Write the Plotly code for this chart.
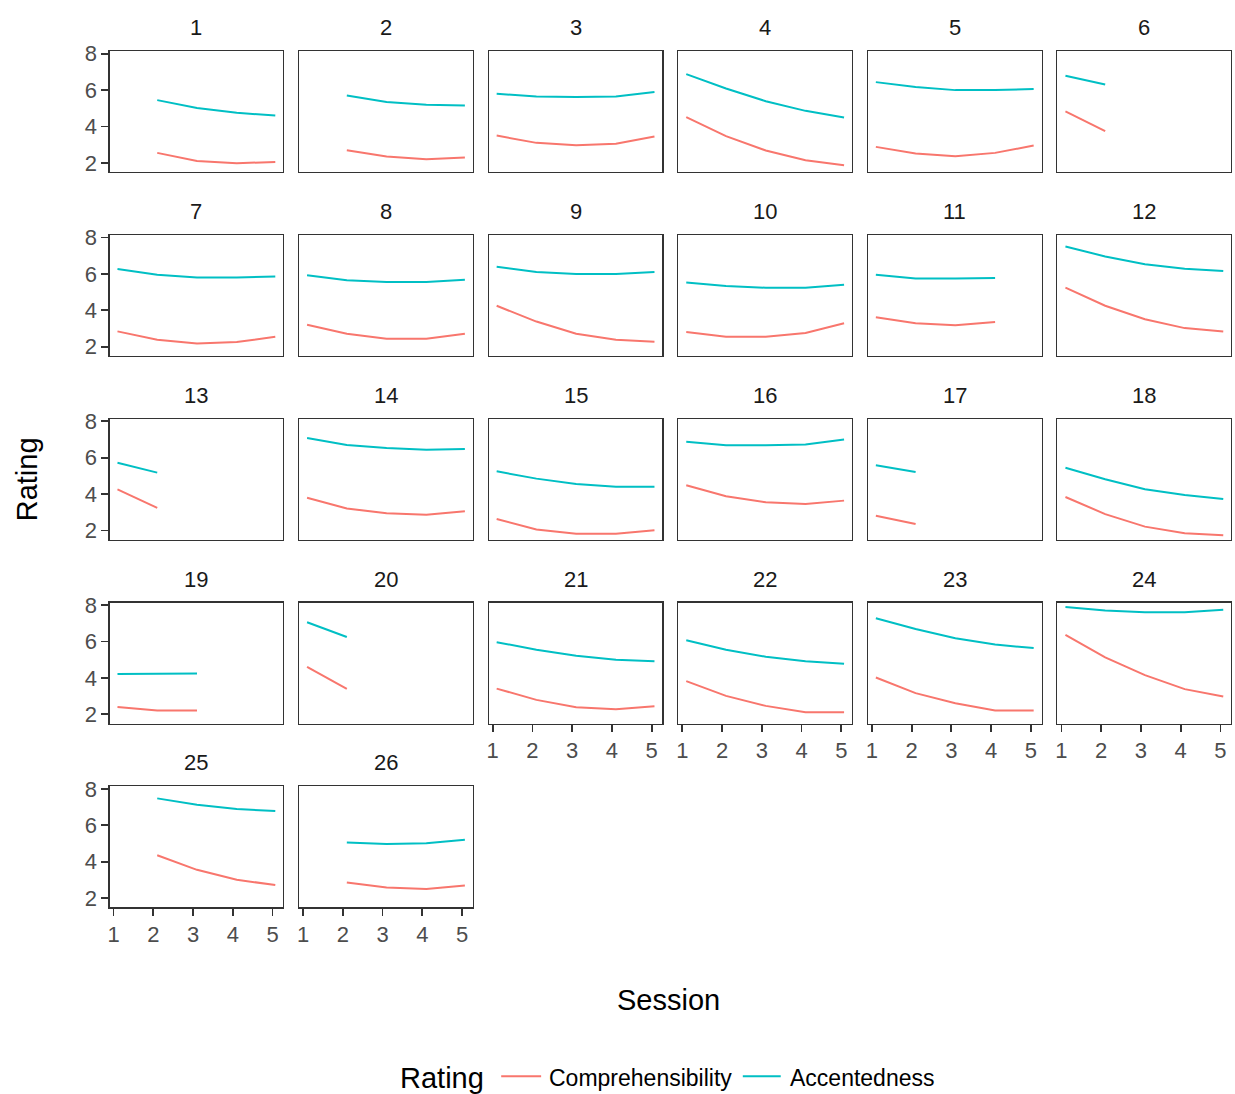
import plotly.graph_objects as go

# ---------------- data ----------------
sessions = [1.1, 2.1, 3.1, 4.1, 5.07]
tick_vals = [1, 2, 3, 4, 5]
tick_text = ["1", "2", "3", "4", "5"]
y_ticks = [2, 4, 6, 8]
panel_ids = [str(i) for i in range(1, 27)]
N = None

comprehensibility = [
    [N, 2.55, 2.10, 1.98, 2.05],      # 1
    [N, 2.70, 2.35, 2.20, 2.30],      # 2
    [3.50, 3.10, 2.97, 3.05, 3.45],   # 3
    [4.52, 3.47, 2.68, 2.15, 1.87],   # 4
    [2.88, 2.51, 2.37, 2.55, 2.95],   # 5
    [4.83, 3.74, N, N, N],            # 6
    [2.84, 2.38, 2.18, 2.25, 2.55],   # 7
    [3.20, 2.71, 2.44, 2.44, 2.71],   # 8
    [4.25, 3.38, 2.71, 2.38, 2.27],   # 9
    [2.80, 2.55, 2.55, 2.75, 3.29],   # 10
    [3.62, 3.29, 3.18, 3.35, N],      # 11
    [5.25, 4.25, 3.51, 3.02, 2.84],   # 12
    [4.26, 3.24, N, N, N],            # 13
    [3.80, 3.21, 2.94, 2.86, 3.06],   # 14
    [2.63, 2.05, 1.82, 1.82, 2.01],   # 15
    [4.49, 3.88, 3.55, 3.46, 3.64],   # 16
    [2.81, 2.36, N, N, N],            # 17
    [3.84, 2.90, 2.21, 1.85, 1.73],   # 18
    [2.40, 2.20, 2.20, N, N],         # 19
    [4.61, 3.40, N, N, N],            # 20
    [3.41, 2.79, 2.38, 2.27, 2.44],   # 21
    [3.82, 3.01, 2.46, 2.11, 2.11],   # 22
    [4.02, 3.16, 2.60, 2.20, 2.20],   # 23
    [6.36, 5.13, 4.15, 3.38, 2.97],   # 24
    [N, 4.35, 3.55, 3.00, 2.72],      # 25
    [N, 2.85, 2.58, 2.50, 2.69],      # 26
]

accentedness = [
    [N, 5.45, 5.02, 4.75, 4.60],      # 1
    [N, 5.70, 5.35, 5.20, 5.15],      # 2
    [5.80, 5.65, 5.62, 5.65, 5.90],   # 3
    [6.88, 6.09, 5.39, 4.86, 4.50],   # 4
    [6.44, 6.17, 6.00, 6.00, 6.06],   # 5
    [6.79, 6.31, N, N, N],            # 6
    [6.27, 5.95, 5.80, 5.80, 5.86],   # 7
    [5.93, 5.65, 5.55, 5.55, 5.68],   # 8
    [6.40, 6.10, 6.00, 6.00, 6.10],   # 9
    [5.53, 5.33, 5.24, 5.24, 5.40],   # 10
    [5.95, 5.75, 5.75, 5.78, N],      # 11
    [7.51, 6.96, 6.53, 6.29, 6.16],   # 12
    [5.72, 5.18, N, N, N],            # 13
    [7.08, 6.70, 6.54, 6.44, 6.48],   # 14
    [5.25, 4.85, 4.55, 4.40, 4.40],   # 15
    [6.88, 6.68, 6.68, 6.72, 7.00],   # 16
    [5.58, 5.22, N, N, N],            # 17
    [5.45, 4.82, 4.27, 3.95, 3.73],   # 18
    [4.21, 4.21, 4.24, N, N],         # 19
    [7.06, 6.25, N, N, N],            # 20
    [5.96, 5.55, 5.22, 5.00, 4.91],   # 21
    [6.07, 5.55, 5.16, 4.91, 4.78],   # 22
    [7.28, 6.69, 6.18, 5.83, 5.64],   # 23
    [7.90, 7.71, 7.61, 7.61, 7.74],   # 24
    [N, 7.48, 7.13, 6.89, 6.78],      # 25
    [N, 5.05, 4.97, 5.01, 5.20],      # 26
]

series_names = ["Comprehensibility", "Accentedness"]
series_colors = ["#F8766D", "#00BFC4"]

# ---------------- layout geometry ----------------
W, H = 1235, 1094
col_left = [107.7 + 189.9 * c for c in range(6)]
row_top = [41.7 + 186.0 * r for r in range(5)]
pw, ph = 174.0, 122.4
ncol = 6

FONT = "Liberation Sans, Arial, sans-serif"
TICKC = "#4D4D4D"

fig = go.Figure()
layout = dict(
    width=W, height=H, autosize=False,
    margin=dict(l=0, r=0, t=0, b=0),
    paper_bgcolor="white", plot_bgcolor="white",
    font=dict(family=FONT, size=22, color="#1A1A1A"),
    showlegend=False,
)
annotations = []
shapes = []

x_label_panels = {21, 22, 23, 24, 25, 26}

for i, pid in enumerate(panel_ids):
    k = i + 1
    r, c = divmod(i, ncol)
    L = col_left[c]
    T = row_top[r]
    xd = [L / W, (L + pw) / W]
    yd = [1 - (T + ph) / H, 1 - T / H]
    xa = "xaxis" if k == 1 else f"xaxis{k}"
    ya = "yaxis" if k == 1 else f"yaxis{k}"
    xref = "x" if k == 1 else f"x{k}"
    yref = "y" if k == 1 else f"y{k}"
    show_x = k in x_label_panels
    show_y = c == 0
    layout[xa] = dict(
        domain=xd, anchor=yref, range=[0.9, 5.27],
        tickvals=tick_vals, ticktext=tick_text,
        showticklabels=show_x, ticks="outside" if show_x else "",
        ticklen=7, tickwidth=1.8, tickcolor="#333333",
        tickfont=dict(size=22, color=TICKC, family=FONT),
        showgrid=False, zeroline=False,
        showline=True, mirror=True, linecolor="#333333", linewidth=1.2,
    )
    layout[ya] = dict(
        domain=yd, anchor=xref, range=[1.49, 8.14],
        tickvals=y_ticks,
        showticklabels=show_y, ticks="outside" if show_y else "",
        ticklen=7, tickwidth=1.8, tickcolor="#333333",
        tickfont=dict(size=22, color=TICKC, family=FONT),
        showgrid=False, zeroline=False,
        showline=True, mirror=True, linecolor="#333333", linewidth=1.2,
    )
    for name, col, data in zip(series_names, series_colors,
                               [comprehensibility, accentedness]):
        fig.add_trace(go.Scatter(
            x=sessions, y=data[i], mode="lines",
            line=dict(color=col, width=2),
            name=name, showlegend=False, hoverinfo="skip",
            connectgaps=False, xaxis=xref, yaxis=yref,
        ))
    annotations.append(dict(
        text=pid, x=(xd[0] + xd[1]) / 2, y=yd[1], xref="paper", yref="paper",
        xanchor="center", yanchor="bottom", yshift=9, showarrow=False,
        font=dict(size=22, color="#1A1A1A", family=FONT),
    ))

# axis titles
annotations.append(dict(
    text="Session", x=668 / W, y=1 - 1002 / H, xref="paper", yref="paper",
    xanchor="center", yanchor="middle", showarrow=False,
    font=dict(size=29, color="black", family=FONT),
))
annotations.append(dict(
    text="Rating", x=25 / W, y=1 - 475 / H, xref="paper", yref="paper",
    xanchor="center", yanchor="middle", showarrow=False, textangle=-90,
    font=dict(size=29, color="black", family=FONT),
))

# legend (drawn manually to match ggplot key geometry)
ly_text = 1 - 1081 / H
ly_key = 1 - 1079 / H
annotations.append(dict(
    text="Rating", x=397 / W, y=ly_text, xref="paper", yref="paper",
    xanchor="left", yanchor="middle", showarrow=False,
    font=dict(size=29, color="black", family=FONT),
))
key_x = [(500, 540, 546), (742, 780, 787)]
for (x0, x1, tx), name, col in zip(key_x, series_names, series_colors):
    shapes.append(dict(type="line", xref="paper", yref="paper",
                       x0=x0 / W, x1=x1 / W, y0=ly_key, y1=ly_key,
                       line=dict(color=col, width=2)))
    annotations.append(dict(
        text=name, x=tx / W, y=ly_text, xref="paper", yref="paper",
        xanchor="left", yanchor="middle", showarrow=False,
        font=dict(size=23, color="black", family=FONT),
    ))

layout["annotations"] = annotations
layout["shapes"] = shapes

fig.update_layout(**layout)
fig.write_html(
    "out.html",
    config={"displayModeBar": False, "staticPlot": True},
    post_script=(
        "document.documentElement.style.margin='0px';"
        "document.body.style.margin='0px';document.body.style.padding='0px';"
        "document.body.style.overflow='hidden';"
        "var gd=document.getElementById('{plot_id}');"
        "gd.style.position='absolute';gd.style.top='0px';gd.style.left='0px';"
    ),
)
